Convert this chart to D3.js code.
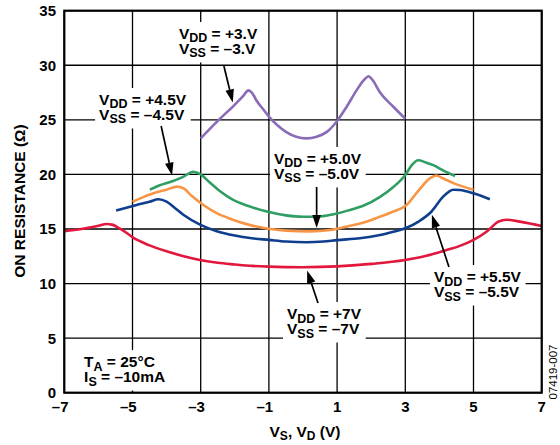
<!DOCTYPE html>
<html><head><meta charset="utf-8">
<script src="https://cdn.jsdelivr.net/npm/d3@7"></script>
<style>body{margin:0;background:#fff}svg{display:block}</style>
</head><body><svg id="c" width="560" height="445"></svg>
<script>
const xTicks=[-7,-5,-3,-1,1,3,5,7];
const xTickLabels=["–7","–5","–3","–1","1","3","5","7"];
const yTicks=[0,5,10,15,20,25,30,35];
const yTickLabels=["0","5","10","15","20","25","30","35"];

const s3=[[-3,23.3],[-2.5,24.9],[-2.0,26.4],[-1.75,27.2],[-1.6,27.7],[-1.5,27.5],[-1.35,26.7],[-1.15,25.9],[-1.0,25.3],[-0.75,24.5],[-0.5,23.9],[-0.2,23.45],[0.1,23.3],[0.4,23.45],[0.7,23.9],[1.0,24.9],[1.28,26.2],[1.57,27.7],[1.8,28.7],[1.92,29.0],[2.05,28.6],[2.26,27.5],[2.65,26.2],[3.0,25.1]];
const s45=[[-4.49,18.6],[-4.2,19.0],[-3.85,19.35],[-3.5,19.8],[-3.22,20.25],[-3.0,20.0],[-2.75,19.3],[-2.43,18.45],[-2.1,17.75],[-1.6,17.1],[-1.06,16.6],[-0.5,16.25],[0.0,16.12],[0.4,16.12],[0.9,16.35],[1.38,16.75],[1.75,17.1],[2.26,17.95],[2.65,18.85],[3.0,19.95],[3.19,20.85],[3.38,21.3],[3.6,21.1],[3.82,20.85],[4.15,20.3],[4.46,19.85]];
const s5=[[-5.0,17.5],[-4.7,17.9],[-4.39,18.27],[-4.0,18.6],[-3.7,18.88],[-3.51,18.73],[-3.25,18.0],[-2.92,17.2],[-2.53,16.45],[-2.1,15.9],[-1.6,15.4],[-1.06,15.05],[-0.5,14.85],[0.2,14.78],[0.8,14.9],[1.38,15.3],[1.67,15.5],[2.26,16.13],[2.65,16.6],[3.0,17.1],[3.4,18.57],[3.72,19.64],[3.91,19.9],[4.1,19.65],[4.41,19.2],[5.0,18.6]];
const s55=[[-5.48,16.7],[-4.88,17.2],[-4.5,17.5],[-4.24,17.72],[-4.0,17.5],[-3.75,16.9],[-3.51,16.3],[-3.02,15.4],[-2.53,14.8],[-2.0,14.4],[-1.5,14.15],[-1.0,14.0],[-0.5,13.85],[0.1,13.78],[0.6,13.85],[1.0,13.98],[1.67,14.15],[2.26,14.45],[2.65,14.75],[3.0,15.06],[3.4,15.7],[3.77,16.6],[4.11,17.96],[4.41,18.6],[4.6,18.57],[5.0,18.27],[5.48,17.72]];
const s7=[[-7,14.8],[-6.5,15.0],[-6.0,15.3],[-5.76,15.46],[-5.6,15.4],[-5.46,15.2],[-5.2,14.7],[-4.98,14.2],[-4.5,13.5],[-4.0,12.95],[-3.5,12.5],[-3.02,12.16],[-2.5,11.9],[-2.0,11.75],[-1.5,11.62],[-1.0,11.55],[0,11.5],[1.0,11.57],[2.0,11.8],[3.0,12.16],[3.5,12.45],[4.21,13.07],[4.6,13.45],[5.0,14.0],[5.4,14.8],[5.73,15.67],[5.97,15.85],[6.4,15.65],[7.0,15.27]];

const seriesData=[s7,s55,s5,s45,s3];
const seriesColors=["#e2173e","#0f3e8e","#f79546","#2f9e62","#8a6bb8"];

const svg=d3.select("#c");
const FONT="'Liberation Sans', Arial, Helvetica, sans-serif";
const x=d3.scaleLinear().domain([-7,7]).range([64.3,541.7]);
const y=d3.scaleLinear().domain([0,35]).range([392.7,10.7]);

// grid
const g=svg.append("g");
g.selectAll(".vg").data(xTicks).join("line")
  .attr("x1",d=>x(d)).attr("x2",d=>x(d)).attr("y1",y(0)).attr("y2",y(35))
  .attr("stroke","#000").attr("stroke-width",1.3);
g.selectAll(".hg").data(yTicks).join("line")
  .attr("x1",x(-7)).attr("x2",x(7)).attr("y1",d=>y(d)).attr("y2",d=>y(d))
  .attr("stroke","#000").attr("stroke-width",1.3);

// series
const line=d3.line().x(d=>x(d[0])).y(d=>y(d[1])).curve(d3.curveMonotoneX);
svg.append("g").selectAll("path").data(seriesData).join("path")
  .attr("d",line).attr("fill","none")
  .attr("stroke",(d,i)=>seriesColors[i]).attr("stroke-width",2.6)
  .attr("stroke-linejoin","round").attr("stroke-linecap","butt");

// frame
svg.append("rect").attr("x",x(-7)).attr("y",y(35)).attr("width",x(7)-x(-7)).attr("height",y(0)-y(35))
  .attr("fill","none").attr("stroke","#000").attr("stroke-width",2.2);

// tick labels
svg.append("g").selectAll("text").data(yTicks).join("text")
  .attr("x",56).attr("y",d=>y(d)).attr("dy","0.36em").attr("text-anchor","end")
  .attr("font-family",FONT).attr("font-weight","bold").attr("font-size",15)
  .text((d,i)=>yTickLabels[i]);
svg.append("g").selectAll("text").data(xTicks).join("text")
  .attr("x",d=>x(d)+4.2).attr("y",412).attr("text-anchor","end")
  .attr("font-family",FONT).attr("font-weight","bold").attr("font-size",15)
  .text((d,i)=>xTickLabels[i]);

// axis titles
const xt=svg.append("text").attr("x",305).attr("y",437).attr("text-anchor","middle")
  .attr("font-family",FONT).attr("font-weight","bold").attr("font-size",15.5);
xt.append("tspan").text("V");
xt.append("tspan").attr("font-size",12).attr("dy",3).text("S");
xt.append("tspan").attr("dy",-3).text(", V");
xt.append("tspan").attr("font-size",12).attr("dy",3).text("D");
xt.append("tspan").attr("dy",-3).text(" (V)");

svg.append("text").attr("transform","translate(25,201) rotate(-90)").attr("text-anchor","middle")
  .attr("font-family",FONT).attr("font-weight","bold").attr("font-size",15.5)
  .text("ON RESISTANCE (Ω)");

svg.append("text").attr("transform","translate(557,372) rotate(-90)").attr("text-anchor","middle")
  .attr("font-family",FONT).attr("font-size",11.5).text("07419-007");

// annotations
function label(px,py,lines){
  const grp=svg.append("g");
  const rect=grp.append("rect").attr("fill","#fff");
  const t=grp.append("text").attr("font-family",FONT).attr("font-weight","bold").attr("font-size",15.5);
  lines.forEach((ln,i)=>{
    const base=py+i*15;
    t.append("tspan").attr("x",px).attr("y",base).text(ln[0]);
    t.append("tspan").attr("font-size",12.5).attr("y",base+3.5).text(ln[1]);
    t.append("tspan").attr("y",base).text(ln[2]);
  });
  const bb=t.node().getBBox();
  rect.attr("x",bb.x-4).attr("y",bb.y-3).attr("width",bb.width+8).attr("height",bb.height+5);
}
function arrow(x1,y1,x2,y2){
  const X1=x(x1),Y1=y(y1),X2=x(x2),Y2=y(y2);
  const a=Math.atan2(Y2-Y1,X2-X1),L=13,W=4.3;
  const bx=X2-L*Math.cos(a),by=Y2-L*Math.sin(a);
  svg.append("line").attr("x1",X1).attr("y1",Y1).attr("x2",bx).attr("y2",by)
    .attr("stroke","#000").attr("stroke-width",1.7);
  svg.append("path").attr("d",`M${X2},${Y2}L${bx+W*Math.sin(a)},${by-W*Math.cos(a)}L${bx-W*Math.sin(a)},${by+W*Math.cos(a)}Z`)
    .attr("fill","#000");
}
const labels=[
  {x:-3.64,y:32.41,l:[["V","DD"," = +3.V"],["V","SS"," = –3.V"]]},
  {x:-5.98,y:26.36,l:[["V","DD"," = +4.5V"],["V","SS"," = –4.5V"]]},
  {x:-0.85,y:20.96,l:[["V","DD"," = +5.0V"],["V","SS"," = –5.0V"]]},
  {x:3.84,y:10.14,l:[["V","DD"," = +5.5V"],["V","SS"," = –5.5V"]]},
  {x:-0.47,y:6.75,l:[["V","DD"," = +7V"],["V","SS"," = –7V"]]},
  {x:-6.42,y:2.35,l:[["T","A"," = 25°C"],["I","S"," = –10mA"]]}
];
labels.forEach(d=>label(x(d.x),y(d.y),d.l));
const arrows=[
  [-2.32,29.93,-2.06,26.6],
  [-4.16,24.44,-3.84,19.9],
  [0.40,18.85,0.40,15.1],
  [4.28,11.52,3.78,16.3],
  [0.44,8.22,0.12,11.2]
];
arrows.forEach(a=>arrow(...a));
</script></body></html>
